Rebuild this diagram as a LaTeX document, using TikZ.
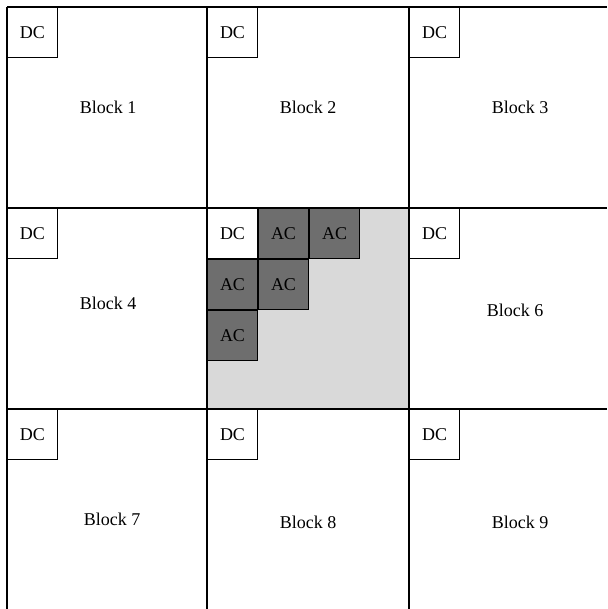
\documentclass[tikz,border=0pt]{standalone}
\usepackage{fontspec}
\setmainfont{Liberation Serif}
\definecolor{acgray}{HTML}{6E6E6E}
\definecolor{blockgray}{HTML}{D9D9D9}
\tikzset{
  cell/.style={draw, line width=1pt, minimum size=50pt, inner sep=0pt, anchor=north west, font=\fontsize{18}{20}\selectfont},
  dccell/.style={cell, fill=white},
  accell/.style={cell, fill=acgray},
  blocklabel/.style={font=\fontsize{18}{20}\selectfont}
}
\begin{document}
\begin{tikzpicture}[x=1pt, y=-1pt]
  \useasboundingbox (0,0) rectangle (607,609);

  % Shaded block
  \fill[blockgray] (207,208) rectangle (409,409);

  % Grid
  \draw[line width=1.3pt] (7,7) -- (607,7);
  \draw[line width=1.3pt] (7,208) -- (607,208);
  \draw[line width=1.3pt] (7,409) -- (607,409);
  \draw[line width=1.3pt] (7,7) -- (7,609);
  \draw[line width=1.3pt] (207,7) -- (207,609);
  \draw[line width=1.3pt] (409,7) -- (409,609);

  % DC coefficients
  \foreach \name/\x/\y in {dc1/7/7, dc2/207/7, dc3/409/7, dc4/7/208, dc5/207/208, dc6/409/208, dc7/7/409, dc8/207/409, dc9/409/409}
    \node[dccell] (\name) at (\x,\y) {DC};

  % AC coefficients
  \node[accell, anchor=north west] (ac1) at (dc5.north east) {AC};
  \node[accell, anchor=north west] (ac2) at (ac1.north east) {AC};
  \node[accell, anchor=north west] (ac3) at (dc5.south west) {AC};
  \node[accell, anchor=north west] (ac4) at (ac3.north east) {AC};
  \node[accell, anchor=north west] (ac5) at (ac3.south west) {AC};

  % Block labels
  \node[blocklabel] (b1) at (108,107) {Block 1};
  \node[blocklabel] (b2) at (308,107) {Block 2};
  \node[blocklabel] (b3) at (520,107) {Block 3};
  \node[blocklabel] (b4) at (108,303) {Block 4};
  \node[blocklabel] (b6) at (515,310) {Block 6};
  \node[blocklabel] (b7) at (112,519) {Block 7};
  \node[blocklabel] (b8) at (308,522) {Block 8};
  \node[blocklabel] (b9) at (520,522) {Block 9};
\end{tikzpicture}
\end{document}
